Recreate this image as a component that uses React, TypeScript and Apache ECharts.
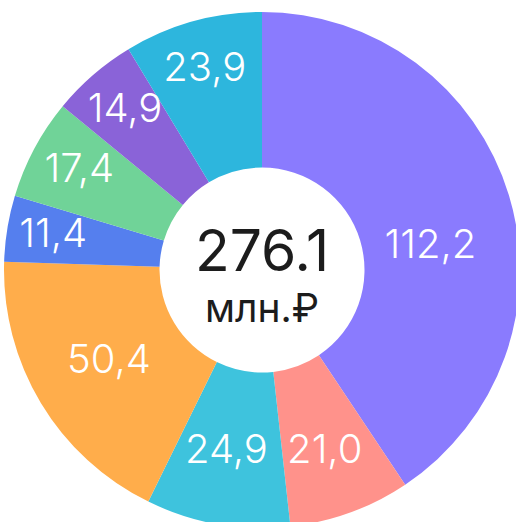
import React, { useEffect, useRef } from "react";
import * as echarts from "echarts";

const categories = ["A", "B", "C", "D", "E", "F", "G", "H"];
const values = [112.2, 21.0, 24.9, 50.4, 11.4, 17.4, 14.9, 23.9];
const colors = ["#8A7BFE", "#FF928B", "#3EC3DD", "#FFAD4B", "#557FEE", "#70D398", "#8A63D8", "#2DB6DD"];
const unitLabel = "млн.₽";
// label nudges [dx, dy] from the default inside position
const labelShift = [
  [-7, 27],
  [0, 6],
  [-4, -2],
  [4, -6],
  [-28, -8],
  [-21, -16],
  [-17, -24],
  [-8, -27],
];

export default function App() {
  const ref = useRef<HTMLDivElement>(null);
  useEffect(() => {
    if (!ref.current) return;
    const chart = echarts.init(ref.current, null, { renderer: "svg" });
    const total = values.reduce((a, b) => a + b, 0);
    chart.setOption({
      animation: false,
      series: [
        {
          type: "pie",
          center: [262, 270],
          radius: [102.5, 258],
          startAngle: 90,
          clockwise: true,
          avoidLabelOverlap: false,
          data: values.map((v, i) => ({
            name: categories[i],
            value: v,
            itemStyle: { color: colors[i] },
          })),
          itemStyle: { borderWidth: 0 },
          label: {
            show: true,
            position: "inside",
            color: "#ffffff",
            fontFamily: "Inter",
            fontWeight: 300,
            fontSize: 40,
            formatter: (p: any) => Number(p.value).toFixed(1).replace(".", ","),
          },
          labelLine: { show: false },
          labelLayout: (p: any) => {
            const s = labelShift[p.dataIndex] || [0, 0];
            return { dx: s[0], dy: s[1] };
          },
          emphasis: { disabled: true },
        },
      ],
      graphic: [
        {
          type: "text",
          x: 262,
          y: 250,
          style: {
            text: total.toFixed(1),
            fill: "#1c1c1c",
            font: '400 57px "Inter"',
            textAlign: "center",
            textVerticalAlign: "middle",
          },
        },
        {
          type: "text",
          x: 262,
          y: 307,
          style: {
            text: unitLabel,
            fill: "#1c1c1c",
            font: '400 39px "Inter"',
            textAlign: "center",
            textVerticalAlign: "middle",
          },
        },
      ],
    });
    return () => chart.dispose();
  }, []);
  return (
    <div
      ref={ref}
      style={{ position: "fixed", left: 0, top: 0, width: 516, height: 522, background: "#ffffff" }}
    />
  );
}
